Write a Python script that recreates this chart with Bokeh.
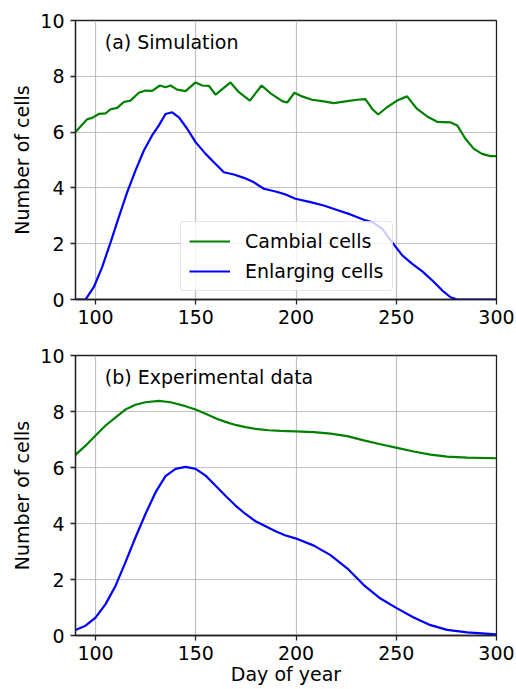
from bokeh.plotting import figure
from bokeh.models import Legend, LegendItem, Label, FixedTicker
from bokeh.layouts import column
from bokeh.embed import file_html
from bokeh.resources import INLINE

# ---- Panel (a): simulation ----
sim_cambial_day = [90, 92.5, 95.8, 98.3, 101.6, 105.0, 107.5, 110.8, 114.1, 117.4, 121.6, 124.9,
                   128.2, 132.1, 134.9, 137.4, 140.7, 144.9, 149.9, 153.2, 156.5, 159.9, 167.3,
                   171.5, 177.0, 182.8, 187.3, 193.1, 195.6, 199.2, 203.0, 208.0, 213.0, 218.8,
                   225.5, 230.5, 234.6, 238.0, 241.0, 245.4, 250.4, 255.4, 260.4, 265.4, 270.4,
                   277.0, 280.4, 284.5, 288.7, 292.8, 297.0, 300]
sim_cambial = [6.00, 6.20, 6.46, 6.51, 6.65, 6.67, 6.82, 6.87, 7.08, 7.13, 7.41, 7.49,
               7.48, 7.67, 7.61, 7.67, 7.52, 7.47, 7.78, 7.67, 7.66, 7.34, 7.78,
               7.43, 7.13, 7.67, 7.39, 7.11, 7.06, 7.41, 7.28, 7.16, 7.11, 7.04,
               7.11, 7.16, 7.18, 6.83, 6.63, 6.89, 7.13, 7.28, 6.83, 6.56, 6.37,
               6.35, 6.24, 5.76, 5.40, 5.22, 5.14, 5.14]

sim_enlarging_day = [90, 95.0, 99.1, 103.3, 107.5, 111.6, 115.8, 119.9, 124.1, 128.2, 131.6, 134.9,
                     138.2, 141.6, 145.7, 149.9, 154.9, 159.0, 164.0, 169.0, 174.0, 179.0, 183.9,
                     189.8, 194.5, 199.7, 207.2, 213.8, 220.5, 227.1, 233.8, 238.8, 243.0, 248.0,
                     253.0, 258.0, 263.0, 268.0, 273.0, 277.1, 280.4, 300]
sim_enlarging = [0, 0, 0.44, 1.16, 2.05, 2.95, 3.85, 4.62, 5.34, 5.88, 6.24, 6.65,
                 6.71, 6.53, 6.12, 5.64, 5.22, 4.92, 4.56, 4.48, 4.36, 4.20, 3.97,
                 3.87, 3.77, 3.61, 3.49, 3.37, 3.21, 3.05, 2.86, 2.75, 2.53, 2.05,
                 1.58, 1.28, 1.01, 0.68, 0.32, 0.08, 0, 0]

# ---- Panel (b): experimental data ----
exp_cambial_day = [90, 95.0, 100.0, 105.0, 110.0, 114.9, 119.9, 124.9, 131.6, 137.4, 144.9, 149.9,
                   154.9, 159.9, 164.8, 169.8, 174.8, 179.8, 186.4, 192.2, 199.7, 208.9, 217.2,
                   225.5, 233.8, 242.1, 250.4, 258.7, 267.1, 275.4, 285.4, 300]
exp_cambial = [6.45, 6.78, 7.14, 7.50, 7.79, 8.07, 8.24, 8.33, 8.38, 8.33, 8.19, 8.07,
               7.92, 7.76, 7.63, 7.52, 7.44, 7.38, 7.33, 7.31, 7.29, 7.26, 7.21,
               7.12, 6.97, 6.83, 6.70, 6.57, 6.46, 6.39, 6.35, 6.33]

exp_enlarging_day = [90, 95.0, 100.0, 105.0, 110.0, 114.9, 119.9, 124.9, 129.9, 134.9, 139.9, 144.9,
                     149.9, 154.9, 159.9, 164.8, 169.8, 174.8, 179.8, 184.8, 189.8, 194.5, 199.7,
                     208.9, 217.2, 225.5, 233.8, 242.1, 250.4, 258.7, 267.1, 275.4, 285.4, 300]
exp_enlarging = [0.20, 0.35, 0.64, 1.12, 1.78, 2.61, 3.50, 4.34, 5.11, 5.69, 5.95, 6.02,
                 5.95, 5.71, 5.35, 4.99, 4.64, 4.34, 4.08, 3.90, 3.72, 3.58, 3.47,
                 3.21, 2.87, 2.40, 1.80, 1.32, 0.97, 0.64, 0.37, 0.20, 0.11, 0.04]

x_ticks = [100, 150, 200, 250, 300]
y_ticks = [0, 2, 4, 6, 8, 10]
series_labels = ["Cambial cells", "Enlarging cells"]
panel_titles = ["(a) Simulation", "(b) Experimental data"]

FONT = "DejaVu Sans"
FS = "19px"
GREEN = "#008000"
BLUE = "#0000ff"


def make_panel(height, border_top, border_bottom, show_xlabel):
    p = figure(width=516, height=height, x_range=(90, 300), y_range=(0, 10),
               output_backend="svg", toolbar_location=None,
               min_border_left=75, min_border_right=20,
               min_border_top=border_top, min_border_bottom=border_bottom)
    p.outline_line_color = "#222222"
    p.outline_line_width = 1.3
    p.outline_line_alpha = 1
    for ax in (p.xaxis[0], p.yaxis[0]):
        ax.axis_line_color = "#222222"
        ax.axis_line_width = 1.3
        ax.major_tick_line_color = "#222222"
        ax.major_tick_line_width = 1.3
        ax.major_tick_out = 5
        ax.major_tick_in = 0
        ax.minor_tick_line_color = None
        ax.major_label_text_font = FONT
        ax.major_label_text_font_size = FS
        ax.major_label_text_color = "black"
        ax.axis_label_text_font = FONT
        ax.axis_label_text_font_size = FS
        ax.axis_label_text_font_style = "normal"
        ax.axis_label_text_color = "black"
    p.xaxis.ticker = FixedTicker(ticks=x_ticks)
    p.yaxis.ticker = FixedTicker(ticks=y_ticks)
    p.yaxis.axis_label = "Number of cells"
    p.yaxis.axis_label_standoff = 4
    p.yaxis.major_label_standoff = 6
    p.xaxis.major_label_standoff = 5
    if show_xlabel:
        p.xaxis.axis_label = "Day of year"
        p.xaxis.axis_label_standoff = 0
    p.xgrid.ticker = FixedTicker(ticks=x_ticks)
    p.ygrid.ticker = FixedTicker(ticks=y_ticks)
    p.grid.grid_line_color = "#b0b0b0"
    p.grid.grid_line_alpha = 0.8
    p.grid.grid_line_width = 1.2
    return p


# Panel (a)
p1 = make_panel(330, 20, 31, False)
r1 = p1.line(sim_cambial_day, sim_cambial, line_color=GREEN, line_width=2.2)
r2 = p1.line(sim_enlarging_day, sim_enlarging, line_color=BLUE, line_width=2.2)
p1.add_layout(Label(x=104.6, y=9.23, text=panel_titles[0], text_font=FONT,
                    text_font_size=FS, text_baseline="middle", text_color="black"))
legend = Legend(items=[LegendItem(label=series_labels[0], renderers=[r1]),
                       LegendItem(label=series_labels[1], renderers=[r2])],
                location=(105, 8))
legend.label_text_font = FONT
legend.label_text_font_size = FS
legend.label_text_color = "black"
legend.glyph_width = 41
legend.glyph_height = 20
legend.label_height = 20
legend.label_standoff = 15
legend.spacing = 8
legend.padding = 8
legend.margin = 0
legend.border_line_color = "#cccccc"
legend.border_line_width = 1
legend.background_fill_alpha = 0.8
try:
    legend.border_radius = 4
except Exception:
    pass
p1.add_layout(legend, "center")

# Panel (b)
p2 = make_panel(358, 25, 53, True)
p2.line(exp_cambial_day, exp_cambial, line_color=GREEN, line_width=2.2)
p2.line(exp_enlarging_day, exp_enlarging, line_color=BLUE, line_width=2.2)
p2.add_layout(Label(x=104.6, y=9.22, text=panel_titles[1], text_font=FONT,
                    text_font_size=FS, text_baseline="middle", text_color="black"))

layout = column(p1, p2, spacing=0)
open("out.html", "w").write(file_html(layout, INLINE))
